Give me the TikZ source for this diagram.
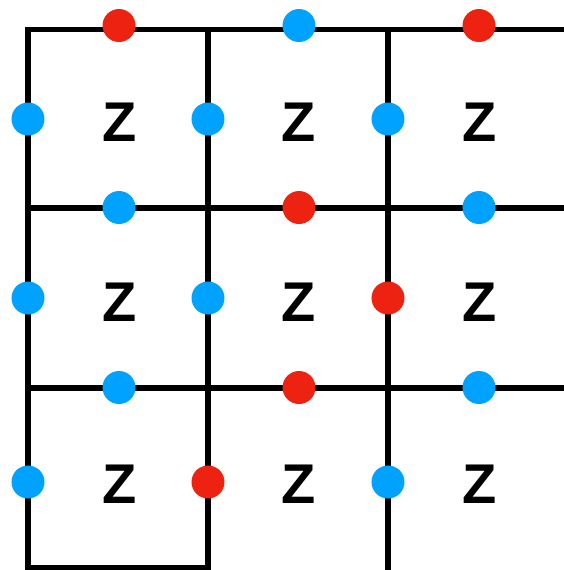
\documentclass[tikz,border=0pt]{standalone}
\usepackage{fontspec}
\setsansfont{Liberation Sans}
\usetikzlibrary{positioning}
\definecolor{qred}{HTML}{EE2211}
\definecolor{qblue}{HTML}{00A2FF}
\tikzset{
  every node/.style={font=\sffamily},
  edge/.style={line width=2.8pt, draw=black, line join=miter},
  reddot/.style={circle, fill=qred, inner sep=0pt, minimum size=16.5pt},
  bluedot/.style={circle, fill=qblue, inner sep=0pt, minimum size=16.5pt},
  zlabel/.style={font=\sffamily\bfseries\fontsize{28}{28}\selectfont, inner sep=0pt},
}
\begin{document}
\begin{tikzpicture}[x=0.5pt, y=-0.5pt]
\useasboundingbox (0,0) rectangle (564,570);
% lattice
\coordinate (tl) at (28,29.5);
\coordinate (tm) at (208,29.5);
\coordinate (tr) at (388,29.5);
\coordinate (te) at (564,29.5);
\coordinate (ml) at (28,208);
\coordinate (me) at (564,208);
\coordinate (nl) at (28,388);
\coordinate (ne) at (564,388);
\coordinate (bl) at (28,567.5);
\coordinate (bm) at (208,567.5);
\coordinate (br) at (388,570);
\draw[edge] (tm) -- (bm) -- (bl) -- (tl) -- (te);
\draw[edge] (tr) -- (br);
\draw[edge] (ml) -- (me);
\draw[edge] (nl) -- (ne);
% qubits on horizontal edges
\node[reddot] (h11) at (119,25.5) {};
\node[bluedot] (h12) at (299,25.5) {};
\node[reddot] (h13) at (479,25.5) {};
\node[bluedot] (h21) at (119,207.5) {};
\node[reddot] (h22) at (299,207.5) {};
\node[bluedot] (h23) at (479,207.5) {};
\node[bluedot] (h31) at (119,387.5) {};
\node[reddot] (h32) at (299,387.5) {};
\node[bluedot] (h33) at (479,387.5) {};
% qubits on vertical edges
\node[bluedot] (v11) at (28,119) {};
\node[bluedot] (v12) at (208,119) {};
\node[bluedot] (v13) at (388,119) {};
\node[bluedot] (v21) at (28,298) {};
\node[bluedot] (v22) at (208,298) {};
\node[reddot] (v23) at (388,298) {};
\node[bluedot] (v31) at (28,482) {};
\node[reddot] (v32) at (208,482) {};
\node[bluedot] (v33) at (388,482) {};
% plaquettes
\node[zlabel] (z11) at (120,122) {Z};
\node[zlabel] (z12) at (299,122) {Z};
\node[zlabel] (z13) at (480,122) {Z};
\node[zlabel] (z21) at (120,302) {Z};
\node[zlabel] (z22) at (299,302) {Z};
\node[zlabel] (z23) at (480,302) {Z};
\node[zlabel] (z31) at (120,484) {Z};
\node[zlabel] (z32) at (299,484) {Z};
\node[zlabel] (z33) at (480,484) {Z};
\end{tikzpicture}
\end{document}
